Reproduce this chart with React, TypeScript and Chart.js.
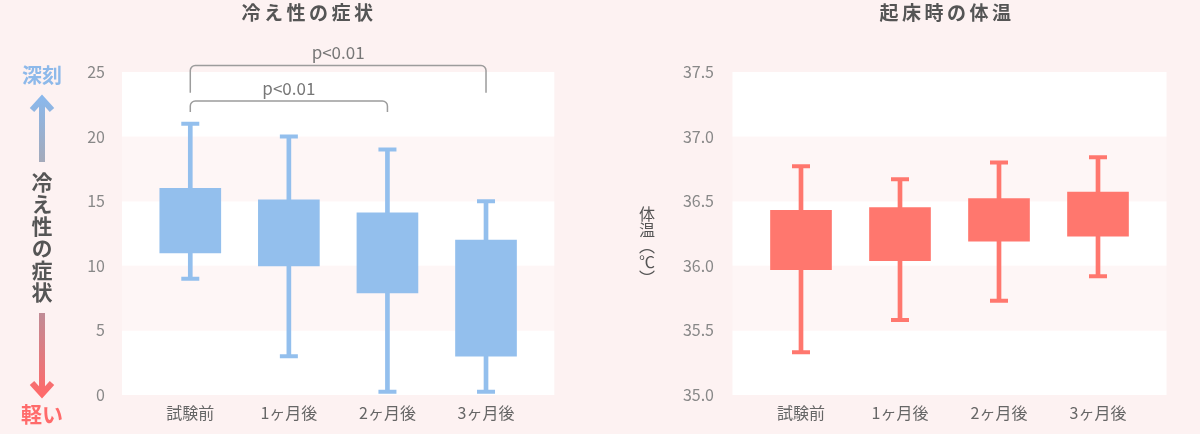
import { Chart, registerables } from "chart.js";
import { useEffect, useRef } from "react";

Chart.register(...registerables);

const categories = ["試験前", "1ヶ月後", "2ヶ月後", "3ヶ月後"];

// 冷え性の症状 (score)
const coldMin = [9, 3, 0.25, 0.25];
const coldQ1 = [11, 10, 7.9, 3];
const coldQ3 = [16, 15.1, 14.1, 12];
const coldMax = [21, 20, 19, 15];
const coldTicks = { min: 0, max: 25, step: 5 };

// 起床時の体温 (℃)
const tempMin = [35.33, 35.58, 35.73, 35.92];
const tempQ1 = [35.97, 36.04, 36.19, 36.23];
const tempQ3 = [36.43, 36.45, 36.52, 36.57];
const tempMax = [36.77, 36.67, 36.8, 36.84];
const tempTicks = { min: 35, max: 37.5, step: 0.5 };

// significance brackets: category index from/to, bracket top and leg end in y units
const coldBrackets = [
  { from: 0, to: 3, top: 25.5, leg: 23.4, label: "p<0.01" },
  { from: 0, to: 2, top: 22.75, leg: 21.9, label: "p<0.01" },
];

const FONT = "'Noto Sans CJK JP', 'Noto Sans', sans-serif";

const bandPlugin = {
  id: "bands",
  beforeDraw(chart: any) {
    const { ctx, chartArea, scales } = chart;
    const y = scales.y;
    const ticks = y.ticks;
    ctx.save();
    for (let i = 0; i < ticks.length - 1; i++) {
      const top = y.getPixelForValue(ticks[i + 1].value);
      const bottom = y.getPixelForValue(ticks[i].value);
      const fromTop = ticks.length - 2 - i;
      ctx.fillStyle = fromTop % 2 === 0 ? "#ffffff" : "#fef6f6";
      ctx.fillRect(chartArea.left - 19, top, chartArea.right - chartArea.left + 38, bottom - top);
    }
    ctx.restore();
  },
};

const bracketPlugin = {
  id: "brackets",
  afterDraw(chart: any, _args: any, opts: any) {
    const items = (opts && opts.items) || [];
    if (!items.length) return;
    const { ctx, scales } = chart;
    ctx.save();
    ctx.strokeStyle = "#9c9c9c";
    ctx.lineWidth = 1.5;
    ctx.fillStyle = "#777777";
    ctx.font = "17px " + FONT;
    ctx.textAlign = "center";
    ctx.textBaseline = "middle";
    items.forEach((b: any) => {
      const x1 = scales.x.getPixelForValue(b.from);
      const x2 = scales.x.getPixelForValue(b.to);
      const yt = scales.y.getPixelForValue(b.top);
      const yl = scales.y.getPixelForValue(b.leg);
      const r = 5;
      ctx.beginPath();
      ctx.moveTo(x1, yl);
      ctx.lineTo(x1, yt + r);
      ctx.arcTo(x1, yt, x1 + r, yt, r);
      ctx.lineTo(x2 - r, yt);
      ctx.arcTo(x2, yt, x2, yt + r, r);
      ctx.lineTo(x2, yl);
      ctx.stroke();
      ctx.fillText(b.label, (x1 + x2) / 2, yt - 13);
    });
    ctx.restore();
  },
};

type BoxProps = {
  left: number;
  mins: number[];
  q1s: number[];
  q3s: number[];
  maxs: number[];
  color: string;
  range: { min: number; max: number; step: number };
  decimals: number;
  axisWidth: number;
  padRight: number;
  labelPad: number;
  brackets: any[];
};

function BoxChart(props: BoxProps) {
  const chartRef = useRef<HTMLCanvasElement | null>(null);
  const chartInstance = useRef<Chart | null>(null);

  useEffect(() => {
    if (chartRef.current) {
      const ctx = chartRef.current.getContext("2d");
      if (ctx) {
        if (chartInstance.current) {
          chartInstance.current.destroy();
        }
        chartInstance.current = new Chart(ctx, {
          type: "bar",
          data: {
            labels: categories,
            datasets: [
              {
                type: "line",
                data: props.maxs,
                showLine: false,
                pointStyle: "line",
                pointRadius: 9,
                pointBorderWidth: 4,
                pointBorderColor: props.color,
                pointBackgroundColor: props.color,
                order: 0,
              },
              {
                type: "line",
                data: props.mins,
                showLine: false,
                pointStyle: "line",
                pointRadius: 9,
                pointBorderWidth: 4,
                pointBorderColor: props.color,
                pointBackgroundColor: props.color,
                order: 0,
              },
              {
                data: props.q1s.map((v, i) => [v, props.q3s[i]]),
                backgroundColor: props.color,
                barThickness: 61,
                grouped: false,
                order: 1,
              },
              {
                data: props.mins.map((v, i) => [v, props.maxs[i]]),
                backgroundColor: props.color,
                barThickness: 4,
                grouped: false,
                order: 2,
              },
            ],
          } as any,
          options: {
            animation: false,
            responsive: false,
            events: [],
            layout: {
              padding: { top: 72, right: props.padRight, bottom: 0, left: 0 },
            },
            plugins: {
              legend: { display: false },
              tooltip: { enabled: false },
              brackets: { items: props.brackets },
            } as any,
            scales: {
              x: {
                offset: true,
                grid: { display: false },
                border: { display: false },
                ticks: {
                  color: "#666666",
                  font: { size: 16, family: FONT },
                  padding: 0,
                  maxRotation: 0,
                },
                afterFit: (scale: any) => {
                  scale.height = 39;
                },
              },
              y: {
                min: props.range.min,
                max: props.range.max,
                grid: { display: false },
                border: { display: false },
                ticks: {
                  stepSize: props.range.step,
                  color: "#888888",
                  font: { size: 16, family: FONT },
                  padding: props.labelPad,
                  callback: (v: any) => Number(v).toFixed(props.decimals),
                },
                afterFit: (scale: any) => {
                  // tick padding would otherwise push the chart area up
                  scale.width = props.axisWidth;
                  scale.paddingTop = 0;
                  scale.paddingBottom = 0;
                },
              },
            },
          },
          plugins: [bandPlugin, bracketPlugin],
        } as any);
      }
    }
    return () => {
      if (chartInstance.current) {
        chartInstance.current.destroy();
        chartInstance.current = null;
      }
    };
  }, []);

  return (
    <div style={{ position: "absolute", left: props.left, top: 0, width: 600, height: 434 }}>
      <canvas ref={chartRef} width={600} height={434} style={{ display: "block" }}></canvas>
    </div>
  );
}

export default function App() {
  return (
    <div
      style={{
        position: "absolute",
        left: 0,
        top: 0,
        width: 1200,
        height: 434,
        background: "#fdf2f2",
        fontFamily: FONT,
        overflow: "hidden",
      }}
    >
      <BoxChart
        left={0}
        mins={coldMin}
        q1s={coldQ1}
        q3s={coldQ3}
        maxs={coldMax}
        color="#93bfed"
        range={coldTicks}
        decimals={0}
        axisWidth={141}
        padRight={64.7}
        labelPad={28}
        brackets={coldBrackets}
      />
      <BoxChart
        left={600}
        mins={tempMin}
        q1s={tempQ1}
        q3s={tempQ3}
        maxs={tempMax}
        color="#ff776e"
        range={tempTicks}
        decimals={1}
        axisWidth={151.5}
        padRight={52.5}
        labelPad={29.5}
        brackets={[]}
      />

      <div
        style={{
          position: "absolute",
          left: 159,
          top: 0,
          width: 300,
          lineHeight: "24px",
          textAlign: "center",
          fontSize: 19,
          fontWeight: 700,
          letterSpacing: "3.5px",
          color: "#555555",
        }}
      >
        冷え性の症状
      </div>
      <div
        style={{
          position: "absolute",
          left: 797,
          top: 0,
          width: 300,
          lineHeight: "24px",
          textAlign: "center",
          fontSize: 19,
          fontWeight: 700,
          letterSpacing: "3.5px",
          color: "#555555",
        }}
      >
        起床時の体温
      </div>

      <svg
        width={90}
        height={434}
        style={{ position: "absolute", left: 0, top: 0 }}
      >
        <defs>
          <linearGradient id="upGrad" gradientUnits="userSpaceOnUse" x1="0" y1="97" x2="0" y2="162">
            <stop offset="0" stopColor="#8ab8ec" />
            <stop offset="1" stopColor="#a4aaba" />
          </linearGradient>
          <linearGradient id="downGrad" gradientUnits="userSpaceOnUse" x1="0" y1="313" x2="0" y2="395">
            <stop offset="0" stopColor="#c08c96" />
            <stop offset="1" stopColor="#ff6a6a" />
          </linearGradient>
        </defs>
        <line x1={42} y1={101} x2={42} y2={162} stroke="url(#upGrad)" strokeWidth={6} />
        <polyline points="32,110 42,99 52,110" fill="none" stroke="url(#upGrad)" strokeWidth={6} />
        <line x1={42} y1={313} x2={42} y2={392} stroke="url(#downGrad)" strokeWidth={6} />
        <polyline points="32,383 42,394 52,383" fill="none" stroke="url(#downGrad)" strokeWidth={6} />
      </svg>

      <div
        style={{
          position: "absolute",
          left: 12,
          top: 62,
          width: 60,
          textAlign: "center",
          fontSize: 20,
          lineHeight: "26px",
          fontWeight: 700,
          color: "#8db9ea",
        }}
      >
        深刻
      </div>
      <div
        style={{
          position: "absolute",
          left: 31,
          top: 172,
          width: 22,
          writingMode: "vertical-rl",
          fontSize: 21,
          lineHeight: "22px",
          letterSpacing: "1px",
          fontWeight: 700,
          color: "#555555",
        }}
      >
        冷え性の症状
      </div>
      <div
        style={{
          position: "absolute",
          left: 12,
          top: 400,
          width: 60,
          textAlign: "center",
          fontSize: 21,
          lineHeight: "26px",
          fontWeight: 700,
          color: "#ff6b6b",
        }}
      >
        軽い
      </div>
      <div
        style={{
          position: "absolute",
          left: 639,
          top: 206,
          width: 16,
          writingMode: "vertical-rl",
          fontSize: 16,
          lineHeight: "16px",
          color: "#555555",
        }}
      >
        体温（℃）
      </div>
    </div>
  );
}
